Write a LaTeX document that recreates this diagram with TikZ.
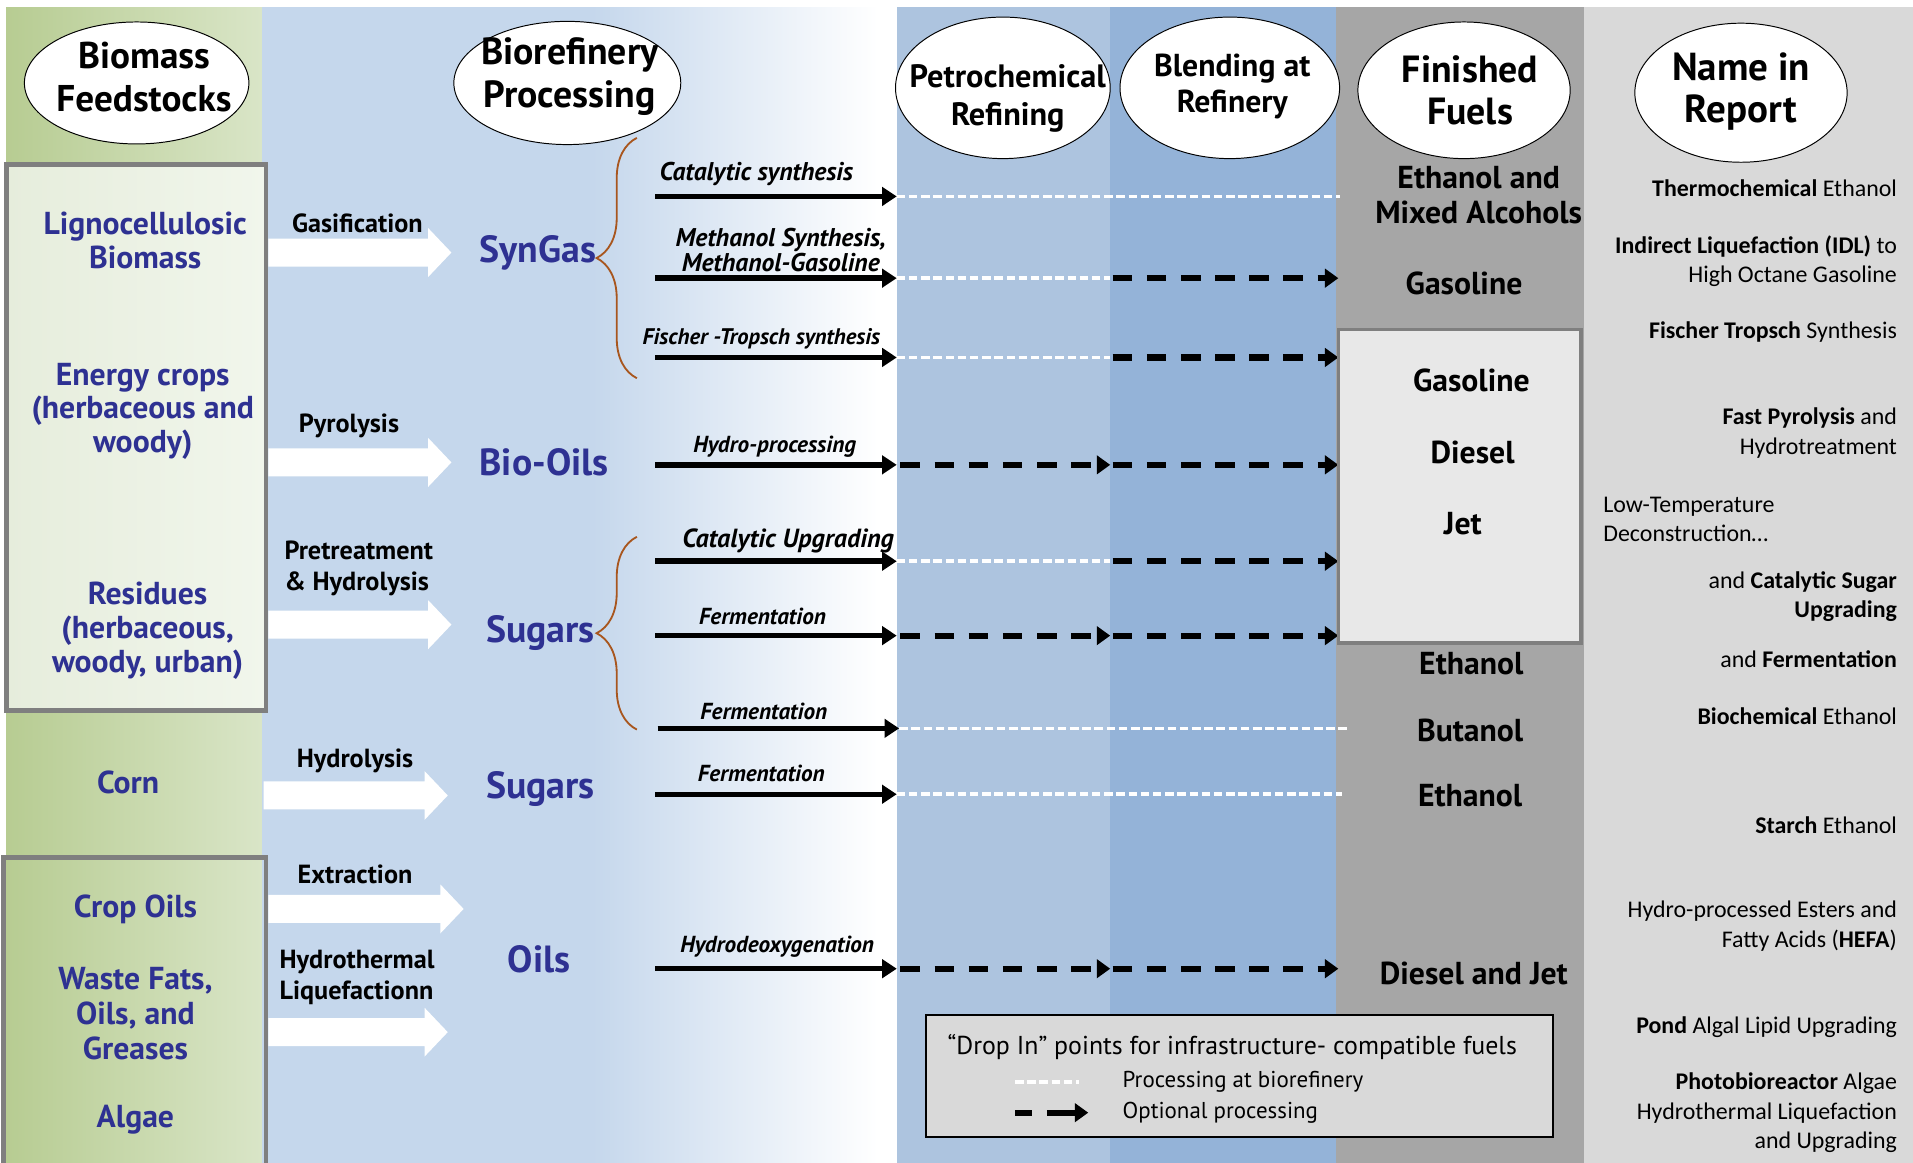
\documentclass[tikz,border=0pt]{standalone}
\usepackage{fontspec}
\setmainfont{PT Sans}
\newfontfamily\calfont{Carlito}
\usetikzlibrary{arrows.meta,shapes.geometric,decorations.pathreplacing}
\newcommand\setfs[2]{\fontsize{#1}{#2}\selectfont}
\definecolor{grnD}{HTML}{B7CC92}
\definecolor{grnL}{HTML}{D9E5C7}
\definecolor{boxLa}{HTML}{E6EDDC}
\definecolor{boxLb}{HTML}{F1F6EC}
\definecolor{bioBlue}{HTML}{C5D7EC}
\definecolor{petBlue}{HTML}{ADC4DF}
\definecolor{blnBlue}{HTML}{94B3D8}
\definecolor{finGray}{HTML}{A6A6A6}
\definecolor{nameGray}{HTML}{D9D9D9}
\definecolor{fuelBox}{HTML}{E8E8E8}
\definecolor{boxGray}{HTML}{7F7F7F}
\definecolor{feedBlue}{HTML}{2E3192}
\definecolor{braceBrn}{HTML}{A8561E}
\begin{document}
\begin{tikzpicture}[x=1pt,y=-1pt,
  feed/.style={text=feedBlue, font=\bfseries\setfs{26}{28.5}, align=center, inner sep=0pt},
  proc/.style={font=\bfseries\setfs{21.5}{25}, align=left, inner sep=0pt},
  inter/.style={text=feedBlue, font=\bfseries\setfs{31}{34}, inner sep=0pt},
  route/.style={font=\bfseries\itshape\setfs{19}{20}, align=center, inner sep=0pt},
  fuel/.style={font=\bfseries\setfs{26}{29}, align=center, inner sep=0pt},
  rep/.style={font=\calfont\setfs{19.6}{24}, align=right, anchor=east, inner sep=0pt},
  hdr/.style={ellipse, draw=black, line width=0.8pt, fill=white, inner sep=0pt},
  hdrtxt/.style={font=\bfseries\setfs{31}{35}, align=center, inner sep=0pt},
  solidarr/.style={line width=4.5pt, -{Triangle[length=12pt,width=15pt]}},
  optarr/.style={line width=5pt, dash pattern=on 16pt off 12pt, -{Triangle[length=11pt,width=15pt]}},
  bioline/.style={white, line width=3pt, dash pattern=on 7pt off 3pt},
  brc/.style={braceBrn, line width=1.5pt, decorate, decoration={brace, amplitude=33pt, aspect=0.5}}
]
\useasboundingbox (0,0) rectangle (1568,953);
% column backgrounds
\shade[left color=grnD, right color=grnL] (5,6) rectangle (215,953);
\fill[bioBlue] (215,6) rectangle (485,953);
\shade[left color=bioBlue, right color=white] (485,6) rectangle (720,953);
\fill[white] (720,6) rectangle (735,953);
\fill[petBlue] (735,6) rectangle (910,953);
\fill[blnBlue] (910,6) rectangle (1095,953);
\fill[finGray] (1095,6) rectangle (1298,953);
\fill[nameGray] (1298,6) rectangle (1568,953);

% feedstock boxes
\shade[left color=boxLa, right color=boxLb] (5,135) rectangle (218,582);
\draw[boxGray, line width=4pt] (5,135) rectangle (218,582);
\draw[boxGray, line width=4pt] (3,703) rectangle (218,960);

% header ellipses
\node[hdr, minimum width=184pt, minimum height=100pt] (hFeed) at (112,68) {};
\node[hdrtxt, font=\bfseries\setfs{30.5}{35}] (tFeed) at (118,63) {Biomass\\Feedstocks};
\node[hdr, minimum width=186pt, minimum height=101pt] (hBio) at (465,68) {};
\node[hdrtxt] (tBio) at (467,63) {Biorefinery\\Processing};
\node[hdr, minimum width=176pt, minimum height=116pt] (hPet) at (822,72) {};
\node[hdrtxt, font=\bfseries\setfs{26.5}{31}] (tPet) at (826,81) {Petrochemical\\Refining};
\node[hdr, minimum width=180pt, minimum height=116pt] (hBln) at (1008,72) {};
\node[hdrtxt, font=\bfseries\setfs{26}{30}] (tBln) at (1010,71) {Blending at\\Refinery};
\node[hdr, minimum width=174pt, minimum height=112pt] (hFin) at (1200,74) {};
\node[hdrtxt] (tFin) at (1205,74) {Finished\\Fuels};
\node[hdr, minimum width=174pt, minimum height=114pt] (hNam) at (1427,76) {};
\node[hdrtxt, font=\bfseries\setfs{32}{35}] (tNam) at (1427,75) {Name in\\Report};

% feedstocks
\node[feed] (lig) at (119,197) {Lignocellulosic\\Biomass};
\node[feed, font=\bfseries\setfs{26}{27.5}] (ene) at (117,337) {Energy crops\\(herbaceous and\\woody)};
\node[feed, font=\bfseries\setfs{26}{27.5}] (res) at (121,517) {Residues\\(herbaceous,\\woody, urban)};
\node[feed] (corn) at (105,641) {Corn};
\node[feed] (crop) at (111,745) {Crop Oils};
\node[feed] (waste) at (111,831) {Waste Fats,\\Oils, and\\Greases};
\node[feed] (algae) at (111,918) {Algae};

% white block arrows
\foreach \yy/\tx/\sx in {207/370/220, 379/370/220, 512/370/220, 652/367/216, 745/380/220, 846/367/220}{
  \fill[white] (\sx,\yy-11.5) -- (\tx-19,\yy-11.5) -- (\tx-19,\yy-20) -- (\tx,\yy) -- (\tx-19,\yy+20) -- (\tx-19,\yy+11.5) -- (\sx,\yy+11.5) -- cycle;
}
\node[proc] (gas) at (293,183) {Gasification};
\node[proc] (pyr) at (286,349) {Pyrolysis};
\node[proc, anchor=west] (pre) at (233,466) {Pretreatment\\\& Hydrolysis};
\node[proc] (hyd) at (291,624) {Hydrolysis};
\node[proc] (ext) at (291,717) {Extraction};
\node[proc, anchor=west] (htl) at (229,801) {Hydrothermal\\Liquefactionn};

% intermediates
\node[inter] (syn) at (441,207) {SynGas};
\node[inter] (bio) at (446,379) {Bio-Oils};
\node[inter] (sug1) at (443,519) {Sugars};
\node[inter] (sug2) at (443,647) {Sugars};
\node[inter] (oil) at (442,786) {Oils};

% braces
\draw[brc] (522,310) -- (522,113);
\draw[brc] (522,598) -- (522,440);

% row coordinates
\foreach \n/\y/\sx/\px/\fx in {1/161/537/735/1098, 2/228/537/735/1097, 3/293/537/735/1097, 4/381/537/735/1097, 5/460/537/735/1097, 6/521/537/735/1097, 7/597/539/737/1105, 8/651/537/735/1100, 9/794/537/735/1097}{
  \coordinate (s\n) at (\sx,\y);
  \coordinate (p\n) at (\px,\y);
  \coordinate (q\n) at (\px+3,\y);
  \coordinate (b\n) at (910,\y);
  \coordinate (c\n) at (912,\y);
  \coordinate (f\n) at (\fx,\y);
}
% white (biorefinery) continuation lines
\draw[bioline] (p1) -- (f1);
\draw[bioline] (p2) -- (b2);
\draw[bioline] (p3) -- (b3);
\draw[bioline] (p5) -- (b5);
\draw[bioline] (p7) -- (f7);
\draw[bioline] (p8) -- (f8);
% optional processing
\foreach \n in {2,3,5}{ \draw[optarr] (c\n) -- (f\n); }
\foreach \n in {4,6,9}{ \draw[optarr] (q\n) -- (b\n); \draw[optarr] (c\n) -- (f\n); }
% solid processing arrows
\foreach \n in {1,...,9}{ \draw[solidarr] (s\n) -- (p\n); }

% route labels
\node[route, font=\bfseries\itshape\setfs{21}{20}] (l1) at (620,143) {Catalytic synthesis};
\node[route, font=\bfseries\itshape\setfs{21}{20.5}] (l2) at (640,205) {Methanol Synthesis,\\Methanol-Gasoline};
\node[route, font=\bfseries\itshape\setfs{18.5}{20}] (l3) at (624,278) {Fischer -Tropsch synthesis};
\node[route] (l4) at (635,366) {Hydro-processing};
\node[route, font=\bfseries\itshape\setfs{21.5}{20}] (l5) at (646,443) {Catalytic Upgrading};
\node[route] (l6) at (625,505) {Fermentation};
\node[route] (l7) at (626,583) {Fermentation};
\node[route] (l8) at (624,634) {Fermentation};
\node[route] (l9) at (637,776) {Hydrodeoxygenation};

% finished fuels
\node[draw=boxGray, line width=3pt, fill=fuelBox, minimum width=199pt, minimum height=257pt, inner sep=0pt] (fbox) at (1196.5,398.5) {};
\node[fuel] (fu1) at (1212,160) {Ethanol and\\Mixed Alcohols};
\node[fuel] (fu2) at (1200,232) {Gasoline};
\node[fuel] (fu3) at (1206,312) {Gasoline};
\node[fuel] (fu4) at (1207,371) {Diesel};
\node[fuel] (fu5) at (1199,429) {Jet};
\node[fuel] (fu6) at (1206,544) {Ethanol};
\node[fuel] (fu7) at (1205,599) {Butanol};
\node[fuel] (fu8) at (1205,652) {Ethanol};
\node[fuel] (fu9) at (1208,798) {Diesel and Jet};

% names in report
\node[rep] (n1) at (1555,154) {\textbf{Thermochemical} Ethanol};
\node[rep] (n2) at (1555,214) {\textbf{Indirect Liquefaction (IDL)} to\\High Octane Gasoline};
\node[rep] (n3) at (1555,272) {\textbf{Fischer Tropsch} Synthesis};
\node[rep] (n4) at (1555,355) {\textbf{Fast Pyrolysis} and\\Hydrotreatment};
\node[rep, anchor=west, align=left] (n5) at (1314,426) {Low-Temperature\\Deconstruction…};
\node[rep] (n6) at (1555,489) {and \textbf{Catalytic Sugar}\\\textbf{Upgrading}};
\node[rep] (n7) at (1555,540) {and \textbf{Fermentation}};
\node[rep] (n8) at (1555,587) {\textbf{Biochemical} Ethanol};
\node[rep] (n9) at (1555,676) {\textbf{Starch} Ethanol};
\node[rep] (n10) at (1555,759) {Hydro-processed Esters and\\Fatty Acids (\textbf{HEFA})};
\node[rep] (n11) at (1555,842) {\textbf{Pond} Algal Lipid Upgrading};
\node[rep] (n12) at (1555,912) {\textbf{Photobioreactor} Algae\\Hydrothermal Liquefaction\\and Upgrading};

% legend
\node[draw=black, line width=2pt, fill=nameGray, minimum width=514pt, minimum height=100pt, inner sep=0pt] (legend) at (1016,882) {};
\node[font=\setfs{21.2}{24}, inner sep=0pt] (legT) at (1010,858) {“Drop In” points for infrastructure- compatible fuels};
\coordinate (lga) at (832,887);
\coordinate (lgb) at (884,887);
\coordinate (lgc) at (832,912);
\coordinate (lgd) at (892,912);
\draw[bioline] (lga) -- (lgb);
\draw[line width=5pt, dash pattern=on 14pt off 12pt on 30pt off 12pt, -{Triangle[length=11pt,width=15pt]}] (lgc) -- (lgd);
\node[font=\setfs{18.8}{22}, anchor=west, inner sep=0pt] (legA) at (920,887) {Processing at biorefinery};
\node[font=\setfs{18.8}{22}, anchor=west, inner sep=0pt] (legB) at (920,912) {Optional processing};
\end{tikzpicture}
\end{document}
